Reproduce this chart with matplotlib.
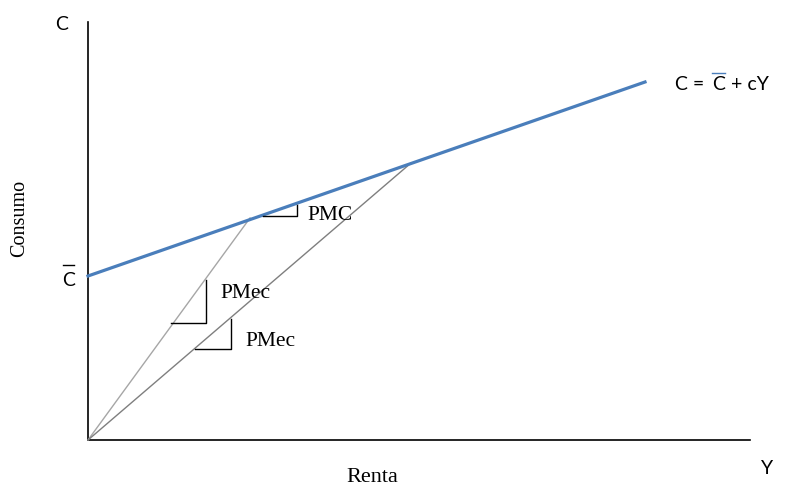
import numpy as np
import matplotlib.pyplot as plt

# consumption function C = Cbar + cY (endpoints)
renta = np.array([0, 557])
consumo = np.array([164, 358])

# two points on the consumption line joined to the origin
punto_a = (162, 222)
punto_b = (323, 277)

# little slope triangles (Y, C)
pmc_tri = ([175, 209, 209], [224, 224, 235])
pmec1_tri = ([83, 118, 118], [117, 117, 160])
pmec2_tri = ([107, 143, 143], [91, 91, 121])

serif = 'Liberation Serif'
sans = 'Lato'

fig = plt.figure(figsize=(7.85, 4.87), dpi=100)
ax = fig.add_axes([0, 0, 1, 1])
ax.set_xlim(-88, 697)
ax.set_ylim(-47, 440)
ax.axis('off')

# axes
ax.plot([0, 0], [0, 418], color='black', lw=1.2)
ax.plot([0, 662], [0, 0], color='black', lw=1.2)

# rays from the origin
ax.plot([0, punto_a[0]], [0, punto_a[1]], color='#a6a6a6', lw=1)
ax.plot([0, punto_b[0]], [0, punto_b[1]], color='#7f7f7f', lw=1)

# consumption line
ax.plot(renta, consumo, color='#4a7ebb', lw=2.3)

for tri in (pmc_tri, pmec1_tri, pmec2_tri):
    ax.plot(tri[0], tri[1], color='black', lw=1)

ax.text(219, 224, 'PMC', family=serif, fontsize=15.5, va='center', ha='left')
ax.text(132, 146, 'PMec', family=serif, fontsize=15.5, va='center', ha='left')
ax.text(157, 98, 'PMec', family=serif, fontsize=15.5, va='center', ha='left')

ax.text(-68, 222, 'Consumo', family=serif, fontsize=14.5, rotation=90, va='center', ha='center')
ax.text(284.5, -38, 'Renta', family=serif, fontsize=16, va='center', ha='center')

ax.text(679, -29, 'Y', family=sans, fontsize=14, va='center', ha='center')
ax.text(-26, 415, 'C', family=sans, fontsize=14, va='center', ha='center')
ax.text(-19.5, 160, 'C', family=sans, fontsize=14, va='center', ha='center')
ax.plot([-25, -14], [175, 175], color='black', lw=1)

# label of the line
ax.text(587, 355, 'C =', family=sans, fontsize=14, va='center', ha='left')
ax.text(624, 355, 'C', family=sans, fontsize=14, va='center', ha='left')
ax.text(643, 355, '+ cY', family=sans, fontsize=14, va='center', ha='left')
ax.plot([624, 637], [367, 367], color='#4a7ebb', lw=1)

fig.savefig('out.png', dpi=100)
